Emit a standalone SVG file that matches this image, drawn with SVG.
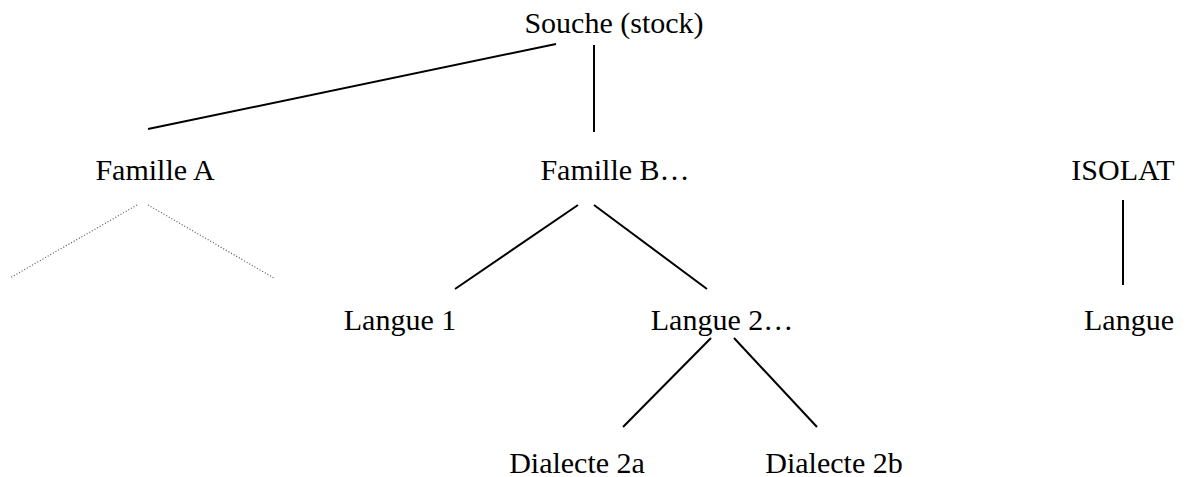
<svg xmlns="http://www.w3.org/2000/svg" width="1186" height="477" viewBox="0 0 1186 477">
<style>
text { font-family: "Liberation Serif", "Times New Roman", serif; font-size: 30px; fill: #000; text-anchor: middle; }
.solid { stroke: #000; stroke-width: 2; fill: none; }
.dotted { stroke: #555; stroke-width: 1.2; stroke-dasharray: 1 2; fill: none; }
</style>
<rect width="1186" height="477" fill="#fff"/>
<g id="connectors">
<line class="solid" x1="556" y1="44" x2="148" y2="129"/>
<line class="solid" x1="594" y1="45" x2="594" y2="132"/>
<line class="dotted" x1="137" y1="205" x2="10" y2="278"/>
<line class="dotted" x1="148" y1="205" x2="274" y2="278"/>
<line class="solid" x1="578" y1="205" x2="455" y2="289"/>
<line class="solid" x1="594" y1="205" x2="707" y2="289"/>
<line class="solid" x1="711" y1="338" x2="623" y2="427"/>
<line class="solid" x1="734" y1="338" x2="817" y2="427"/>
<line class="solid" x1="1123" y1="200" x2="1123" y2="285"/>
</g>
<g id="souche"><text x="614" y="33">Souche (stock)</text></g>
<g id="familleA"><text x="155" y="180">Famille A</text></g>
<g id="familleB"><text x="615" y="180">Famille B…</text></g>
<g id="isolat"><text x="1123" y="180">ISOLAT</text></g>
<g id="langue1"><text x="400" y="330">Langue 1</text></g>
<g id="langue2"><text x="722" y="330">Langue 2…</text></g>
<g id="langue"><text x="1129" y="330">Langue</text></g>
<g id="dialecte2a"><text x="577" y="473">Dialecte 2a</text></g>
<g id="dialecte2b"><text x="834" y="473">Dialecte 2b</text></g>
</svg>
